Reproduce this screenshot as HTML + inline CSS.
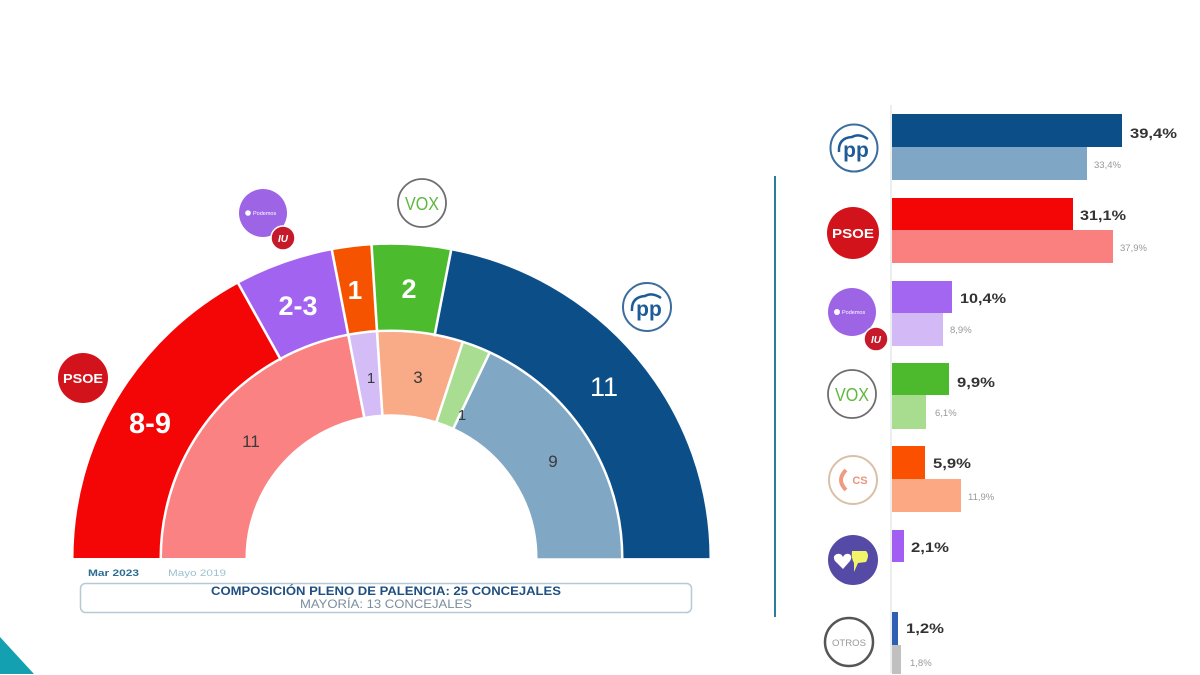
<!DOCTYPE html>
<html>
<head>
<meta charset="utf-8">
<style>
html,body{margin:0;padding:0;background:#fff;width:1200px;height:675px;overflow:hidden;}
svg{display:block;font-family:"Liberation Sans",sans-serif;}
</style>
</head>
<body>
<svg width="1200" height="675" viewBox="0 0 1200 675" xmlns="http://www.w3.org/2000/svg">
<rect width="1200" height="675" fill="#fff"/>

<!-- Hemicycle -->
<g transform="translate(391.5,558) scale(1,0.985)">
  <g transform="rotate(180)" fill="none">
    <circle r="275" stroke="#f40606" stroke-width="86" stroke-dasharray="293.74 1728" stroke-dashoffset="0"/>
    <circle r="275" stroke="#a264f0" stroke-width="86" stroke-dasharray="86.39 1728" stroke-dashoffset="-293.74"/>
    <circle r="275" stroke="#f65300" stroke-width="86" stroke-dasharray="34.56 1728" stroke-dashoffset="-380.13"/>
    <circle r="275" stroke="#4dbb2e" stroke-width="86" stroke-dasharray="69.11 1728" stroke-dashoffset="-414.69"/>
    <circle r="275" stroke="#0c4f88" stroke-width="86" stroke-dasharray="380.13 1728" stroke-dashoffset="-483.80"/>
    <circle r="187.75" stroke="#fb8282" stroke-width="83.5" stroke-dasharray="259.53 1180" stroke-dashoffset="0"/>
    <circle r="187.75" stroke="#d4bcf6" stroke-width="83.5" stroke-dasharray="23.59 1180" stroke-dashoffset="-259.53"/>
    <circle r="187.75" stroke="#f9aa86" stroke-width="83.5" stroke-dasharray="70.78 1180" stroke-dashoffset="-283.12"/>
    <circle r="187.75" stroke="#a9de92" stroke-width="83.5" stroke-dasharray="23.59 1180" stroke-dashoffset="-353.90"/>
    <circle r="187.75" stroke="#80a7c4" stroke-width="83.5" stroke-dasharray="212.34 1180" stroke-dashoffset="-377.49"/>
  </g>
  <g stroke="#fff" stroke-width="2.6">
    <line x1="-229" y1="0" x2="-322" y2="0" transform="rotate(61.2)"/>
    <line x1="-229" y1="0" x2="-322" y2="0" transform="rotate(79.2)"/>
    <line x1="-229" y1="0" x2="-322" y2="0" transform="rotate(86.4)"/>
    <line x1="-229" y1="0" x2="-322" y2="0" transform="rotate(100.8)"/>
    <line x1="-142" y1="0" x2="-231" y2="0" transform="rotate(79.2)"/>
    <line x1="-142" y1="0" x2="-231" y2="0" transform="rotate(86.4)"/>
    <line x1="-142" y1="0" x2="-231" y2="0" transform="rotate(108)"/>
    <line x1="-142" y1="0" x2="-231" y2="0" transform="rotate(115.2)"/>
  </g>
</g>

<!-- Hemicycle labels -->
<g font-weight="bold" fill="#fff" text-anchor="middle">
  <text x="150" y="433" font-size="29">8-9</text>
  <text x="298" y="315" font-size="27">2-3</text>
  <text x="355" y="299" font-size="26">1</text>
  <text x="409" y="298" font-size="27">2</text>
  <text x="604" y="396" font-size="27" font-weight="normal">11</text>
</g>
<g fill="#3a3a3a" text-anchor="middle">
  <text x="251" y="447" font-size="17">11</text>
  <text x="371" y="383" font-size="15">1</text>
  <text x="418" y="383" font-size="17">3</text>
  <text x="462" y="420" font-size="15">1</text>
  <text x="553" y="467" font-size="17">9</text>
</g>

<!-- Hemicycle logos -->
<circle cx="83" cy="378" r="25" fill="#d3131b"/>
<text x="83" y="383" font-size="12.5" font-weight="bold" fill="#fff" text-anchor="middle" textLength="40" lengthAdjust="spacingAndGlyphs">PSOE</text>
<circle cx="263" cy="213" r="24" fill="#9d64e6"/>
<circle cx="248" cy="213" r="2.8" fill="#fff"/>
<text x="253" y="215" font-size="5.5" fill="#fff">Podemos</text>
<circle cx="283" cy="238" r="12" fill="#c61a2a" stroke="#fff" stroke-width="1.5"/>
<text x="283" y="242" font-size="10" font-weight="bold" font-style="italic" fill="#fff" text-anchor="middle">IU</text>
<circle cx="422" cy="203" r="24" fill="#fff" stroke="#6e6e6e" stroke-width="1.8"/>
<text x="422" y="210" font-size="18" fill="#5db83e" text-anchor="middle" textLength="34" lengthAdjust="spacingAndGlyphs">VOX</text>
<circle cx="647" cy="307" r="24" fill="#fff" stroke="#3b6d9e" stroke-width="2"/>
<path d="M632 311 Q631 297 645 296 Q652 292 661 298" fill="none" stroke="#1e5b97" stroke-width="2.5"/>
<text x="649" y="316" font-size="21" font-weight="bold" fill="#1e5b97" text-anchor="middle">pp</text>

<!-- Legend under hemicycle -->
<text x="88" y="576" font-size="9.5" font-weight="bold" fill="#2b6c94" textLength="51" lengthAdjust="spacingAndGlyphs">Mar 2023</text>
<text x="168" y="576" font-size="9.5" fill="#9cc3d0" textLength="58" lengthAdjust="spacingAndGlyphs">Mayo 2019</text>
<rect x="80.5" y="583.5" width="611" height="29" rx="5" fill="none" stroke="#b6c9d5" stroke-width="1.5"/>
<text x="386" y="595" font-size="12" font-weight="bold" fill="#1f4f80" text-anchor="middle" textLength="350" lengthAdjust="spacingAndGlyphs">COMPOSICIÓN PLENO DE PALENCIA: 25 CONCEJALES</text>
<text x="386" y="608" font-size="11.5" fill="#7b8d9c" text-anchor="middle" textLength="172" lengthAdjust="spacingAndGlyphs">MAYORÍA: 13 CONCEJALES</text>

<!-- Teal corner -->
<polygon points="0,637 34,674 0,674" fill="#13a1b1"/>

<!-- Vertical divider -->
<line x1="775" y1="176" x2="775" y2="617" stroke="#2c7d9c" stroke-width="2"/>

<!-- Bar axis -->
<line x1="891" y1="105" x2="891" y2="673" stroke="#e4e8ea" stroke-width="1.5"/>

<!-- Bars -->
<rect x="892" y="114" width="230" height="33" fill="#0c4f88"/>
<rect x="892" y="147" width="195" height="33" fill="#7fa6c4"/>
<rect x="892" y="198" width="181" height="32" fill="#f40606"/>
<rect x="892" y="230" width="221" height="33" fill="#fa8080"/>
<rect x="892" y="281" width="60" height="32" fill="#a266f0"/>
<rect x="892" y="313" width="51" height="33" fill="#d3baf7"/>
<rect x="892" y="363" width="57" height="32" fill="#4cba2c"/>
<rect x="892" y="395" width="34" height="34" fill="#a8dd90"/>
<rect x="892" y="446" width="33" height="33" fill="#fa5000"/>
<rect x="892" y="479" width="69" height="33" fill="#fba883"/>
<rect x="892" y="530" width="12" height="32" fill="#a25ef2"/>
<rect x="892" y="612" width="6" height="33" fill="#2f5fb4"/>
<rect x="892" y="645" width="9" height="29" fill="#c0c0c0"/>

<!-- Bar labels -->
<g font-size="14" font-weight="bold" fill="#333">
  <text x="1130" y="138" textLength="47" lengthAdjust="spacingAndGlyphs">39,4%</text>
  <text x="1080" y="220" textLength="46" lengthAdjust="spacingAndGlyphs">31,1%</text>
  <text x="960" y="303" textLength="46" lengthAdjust="spacingAndGlyphs">10,4%</text>
  <text x="957" y="387" textLength="38" lengthAdjust="spacingAndGlyphs">9,9%</text>
  <text x="933" y="468" textLength="38" lengthAdjust="spacingAndGlyphs">5,9%</text>
  <text x="911" y="552" textLength="38" lengthAdjust="spacingAndGlyphs">2,1%</text>
  <text x="906" y="633" textLength="38" lengthAdjust="spacingAndGlyphs">1,2%</text>
</g>
<g font-size="9.5" fill="#999">
  <text x="1094" y="168">33,4%</text>
  <text x="1120" y="251">37,9%</text>
  <text x="950" y="333">8,9%</text>
  <text x="935" y="416">6,1%</text>
  <text x="968" y="500">11,9%</text>
  <text x="910" y="666">1,8%</text>
</g>

<!-- Bar logos -->
<circle cx="854" cy="148" r="23.5" fill="#fff" stroke="#3b6d9e" stroke-width="2"/>
<path d="M839 152 Q838 138 852 137 Q859 133 868 139" fill="none" stroke="#1e5b97" stroke-width="2.5"/>
<text x="856" y="157" font-size="21" font-weight="bold" fill="#1e5b97" text-anchor="middle">pp</text>
<circle cx="853" cy="233" r="26" fill="#d3131b"/>
<text x="853" y="238" font-size="13" font-weight="bold" fill="#fff" text-anchor="middle" textLength="42" lengthAdjust="spacingAndGlyphs">PSOE</text>
<circle cx="852" cy="312" r="24" fill="#9d64e6"/>
<circle cx="837" cy="312" r="3" fill="#fff"/>
<text x="842" y="314" font-size="5.5" fill="#fff">Podemos</text>
<circle cx="876" cy="339" r="12" fill="#c61a2a" stroke="#fff" stroke-width="1.5"/>
<text x="876" y="343" font-size="10" font-weight="bold" font-style="italic" fill="#fff" text-anchor="middle">IU</text>
<circle cx="852" cy="394" r="24" fill="#fff" stroke="#6e6e6e" stroke-width="1.8"/>
<text x="852" y="401" font-size="18" fill="#5db83e" text-anchor="middle" textLength="34" lengthAdjust="spacingAndGlyphs">VOX</text>
<circle cx="853" cy="480" r="24" fill="#fff" stroke="#dbc0a8" stroke-width="2"/>
<path d="M846 470 Q836 480 846 490" fill="none" stroke="#f09a80" stroke-width="4"/>
<text x="860" y="484" font-size="11" font-weight="bold" fill="#e8967a" text-anchor="middle">CS</text>
<circle cx="853" cy="560" r="25" fill="#554aa5"/>
<path d="M843 569 L835 561 Q832 556 837 554 Q841 553 843 557 Q845 553 849 554 Q853 556 850 561 Z" fill="#fff"/>
<path d="M852 551 L866 551 Q870 555 866 562 L858 563 L854 572 L854 563 Q851 558 852 551 Z" fill="#f2f56a"/>
<circle cx="849" cy="642" r="24" fill="#fff" stroke="#555" stroke-width="2.5"/>
<text x="849" y="646" font-size="9" fill="#999" text-anchor="middle" textLength="34" lengthAdjust="spacingAndGlyphs">OTROS</text>
</svg>
</body>
</html>
